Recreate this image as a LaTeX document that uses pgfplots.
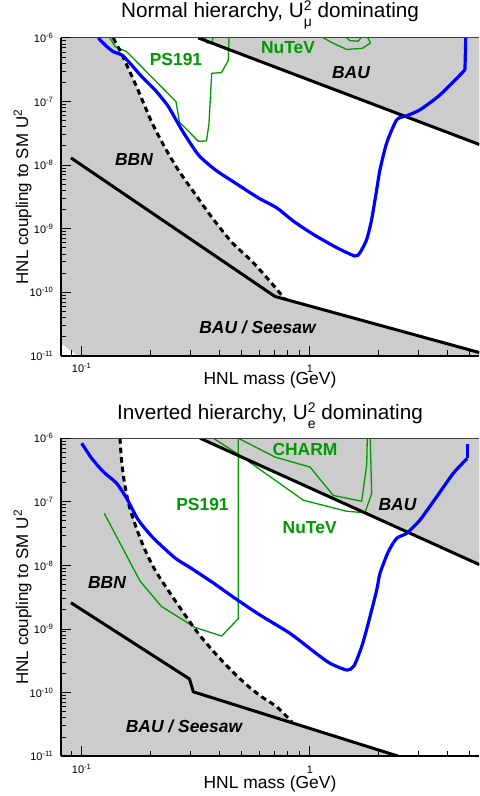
\documentclass[border=0pt]{standalone}
\usepackage{fontspec}
\setmainfont{Liberation Sans}
\usepackage{pgfplots}
\pgfplotsset{compat=1.18}

\definecolor{bgray}{RGB}{204,204,204}
\definecolor{rgreen}{RGB}{0,153,0}
\definecolor{rblue}{RGB}{0,0,255}
\newcommand{\sz}[1]{\fontsize{#1}{#1}\selectfont}

\pgfplotsset{
 every axis/.append style={
  scale only axis, width=418.6bp, height=318bp,
  xmin=0.0809, xmax=5.516, ymin=1e-11, ymax=1e-6,
  axis on top, axis lines*=left,
  xtick={0.1,1}, xticklabels={10\textsuperscript{-1},1},
  minor xtick={0.09,0.2,0.3,0.4,0.5,0.6,0.7,0.8,0.9,2,3,4,5},
  ytick={1e-11,1e-10,1e-9,1e-8,1e-7,1e-6},
  yticklabels={10\textsuperscript{-11},10\textsuperscript{-10},10\textsuperscript{-9},10\textsuperscript{-8},10\textsuperscript{-7},10\textsuperscript{-6}},
  minor ytick={2e-11,3e-11,4e-11,5e-11,6e-11,7e-11,8e-11,9e-11,
   2e-10,3e-10,4e-10,5e-10,6e-10,7e-10,8e-10,9e-10,
   2e-9,3e-9,4e-9,5e-9,6e-9,7e-9,8e-9,9e-9,
   2e-8,3e-8,4e-8,5e-8,6e-8,7e-8,8e-8,9e-8,
   2e-7,3e-7,4e-7,5e-7,6e-7,7e-7,8e-7,9e-7},
  tick align=inside,
  major tick length=10bp, minor tick length=5.5bp,
  tick style={line width=1bp, black},
  axis line style={line width=1.8bp},
  xticklabel style={font=\sz{11}, anchor=base, yshift=-17bp, inner sep=0pt},
  yticklabel style={font=\sz{11}, anchor=east, xshift=-7bp, inner sep=0pt},
  title style={font=\sz{20.8}, anchor=base},
  xlabel style={font=\sz{17.5}, anchor=base},
  ylabel style={font=\sz{17}, at={(-0.0781,0.5)}, anchor=base},
  xlabel={HNL mass (GeV)},
  ylabel={HNL coupling to SM U\textsuperscript{2}},
 },
}
\tikzset{
 blk/.style={black, line width=3bp, line join=round},
 dsh/.style={black, line width=3bp, dash pattern=on 5.5bp off 4bp},
 blu/.style={rblue, line width=3.2bp, line join=round},
 grn/.style={rgreen, line width=1.3bp, line join=round},
 topline/.style={black!75, line width=1bp},
}

\begin{document}
\begin{tikzpicture}
\useasboundingbox (0,0) rectangle (480bp,-796bp);

% ---------------- TOP PANEL ----------------
\begin{loglogaxis}[at={(60.7bp,-37.9bp)}, anchor=north west,
  title={Normal hierarchy, U\rlap{\raisebox{6.5bp}{\sz{14}2}}\raisebox{-9bp}{\sz{14}μ} dominating},
  title style={at={(0.5,1.0459)}},
  xlabel style={at={(0.5,-0.090)}}]
% gray regions
\addplot[fill=bgray, draw=none] coordinates {(0.324,1e-6) (5.516,2.11e-8) (5.516,1e-6)} -- cycle;
\addplot[fill=bgray, draw=none] coordinates {(0.08,1e-6) (0.1375,1e-6) (0.1517,5.03e-7) (0.1764,1.52e-7) (0.2032,4.64e-8) (0.2317,1.88e-8) (0.2641,8.5e-9) (0.3041,4.13e-9) (0.3722,1.50e-9) (0.4553,6.1e-10) (0.5569,3.07e-10) (0.668,1.49e-10) (0.777,7.8e-11) (5.516,1.13e-11) (5.516,1e-11) (0.0963,1e-11) (0.08,1.62e-11)} -- cycle;
% green contours
\addplot[grn] coordinates {(0.133,1e-6) (0.14,7.28e-7) (0.1574,6.08e-7) (0.2588,1e-7) (0.2682,4.72e-8) (0.3248,2.36e-8) (0.352,2.40e-8) (0.361,4.47e-8) (0.371,2.78e-7) (0.4097,2.85e-7) (0.4386,4.43e-7) (0.4417,1e-6)};
\addplot[grn] coordinates {(0.3467,1e-6) (0.3538,8.3e-7) (0.3722,8.3e-7) (0.3759,1e-6)};
\addplot[grn] coordinates {(1.144,1e-6) (1.265,8.23e-7) (1.448,6.58e-7) (1.698,6.87e-7) (1.841,8.32e-7) (1.795,1e-6)};
\addplot[grn] coordinates {(1.448,1e-6) (1.497,9.04e-7) (1.627,8.88e-7) (1.672,1e-6)};
% black lines
\addplot[blk] coordinates {(0.324,1e-6) (5.516,2.11e-8)};
\addplot[blk] coordinates {(0.0897,1.3e-8) (0.7025,8.6e-11) (5.516,1.13e-11)};
\addplot[dsh, smooth, tension=0.5] coordinates {(0.1375,1e-6) (0.1517,5.03e-7) (0.1764,1.52e-7) (0.2032,4.64e-8) (0.2317,1.88e-8) (0.2641,8.5e-9) (0.3041,4.13e-9) (0.3722,1.50e-9) (0.4553,6.1e-10) (0.5569,3.07e-10) (0.668,1.49e-10) (0.777,7.8e-11)};
% blue sensitivity curve
\addplot[blu, smooth, tension=0.4] coordinates {(0.1182,1e-6) (0.1265,7.74e-7) (0.1375,6.08e-7) (0.1497,5.40e-7) (0.1627,4.0e-7) (0.1832,2.47e-7) (0.2095,1.52e-7) (0.2395,8.36e-8) (0.2742,3.6e-8) (0.324,1.46e-8) (0.3836,8.5e-9) (0.4694,5.26e-9) (0.5935,3.06e-9) (0.7146,2.13e-9) (0.845,1.32e-9) (1.034,8.15e-10) (1.309,5.04e-10) (1.574,3.72e-10) (1.656,4.21e-10) (1.772,6.79e-10) (1.863,1.40e-9) (1.96,4.13e-9) (2.026,8.5e-9) (2.168,2.23e-8) (2.398,5.16e-8) (2.652,5.97e-8) (3.032,7.41e-8) (3.71,1.27e-7) (4.774,3.14e-7)};
\addplot[blu] coordinates {(4.774,3.14e-7) (4.81,1e-6)};
\draw[topline] (rel axis cs:0,1) -- (rel axis cs:1,1);
\end{loglogaxis}

% ---------------- BOTTOM PANEL ----------------
\begin{loglogaxis}[at={(60.7bp,-438.2bp)}, anchor=north west,
  title={Inverted hierarchy, U\rlap{\raisebox{6.5bp}{\sz{14}2}}\raisebox{-9bp}{\sz{14}e} dominating},
  title style={at={(0.5,1.0415)}},
  xlabel style={at={(0.5,-0.101)}}]
\addplot[fill=bgray, draw=none] coordinates {(0.3298,1e-6) (5.516,1.03e-8) (5.516,1e-6)} -- cycle;
\addplot[fill=bgray, draw=none] coordinates {(0.08,1e-6) (0.1472,1e-6) (0.1494,4.54e-7) (0.154,1.98e-7) (0.1611,8.91e-8) (0.1729,4.02e-8) (0.1894,1.75e-8) (0.2095,8.47e-9) (0.2388,4.10e-9) (0.2778,1.85e-9) (0.3231,8.65e-10) (0.3798,4.35e-10) (0.4508,2.26e-10) (0.5349,1.27e-10) (0.6164,8.53e-11) (0.7166,5.94e-11) (0.834,3.45e-11) (2.44,1e-11) (0.08,1e-11)} -- cycle;
% green contours: PS191, CHARM, NuTeV
\addplot[grn] coordinates {(0.1256,6.59e-8) (0.18,5.69e-9) (0.2115,2.86e-9) (0.2236,2.26e-9) (0.3134,1.06e-9) (0.4104,7.76e-10) (0.4852,1.46e-9) (0.4852,1e-6)};
\addplot[grn] coordinates {(0.4852,1e-6) (0.7025,5.06e-7) (1.0,3.52e-7) (1.265,1.26e-7) (1.684,1.02e-7) (1.772,3.79e-7) (1.782,1e-6)};
\addplot[grn] coordinates {(0.3772,1e-6) (0.4936,5.38e-7) (0.9348,1.06e-7) (1.448,7.10e-8) (1.741,6.75e-8) (1.863,1.34e-7) (1.837,1e-6)};
% black lines
\addplot[blk] coordinates {(0.3298,1e-6) (5.516,1.03e-8)};
\addplot[blk] coordinates {(0.0897,2.59e-9) (0.2966,1.64e-10) (0.3082,1.03e-10) (2.44,1e-11)};
\addplot[dsh, smooth, tension=0.5] coordinates {(0.1472,1e-6) (0.1494,4.54e-7) (0.154,1.98e-7) (0.1611,8.91e-8) (0.1729,4.02e-8) (0.1894,1.75e-8) (0.2095,8.47e-9) (0.2388,4.10e-9) (0.2778,1.85e-9) (0.3231,8.65e-10) (0.3798,4.35e-10) (0.4508,2.26e-10) (0.5349,1.27e-10) (0.6164,8.53e-11) (0.7166,5.94e-11) (0.834,3.45e-11)};
% blue
\addplot[blu, smooth, tension=0.4] coordinates {(0.1,8.31e-7) (0.1106,4.83e-7) (0.1243,2.97e-7) (0.1423,1.95e-7) (0.1579,1.11e-7) (0.177,5.18e-8) (0.2059,2.70e-8) (0.2563,1.31e-8) (0.2981,9.27e-9) (0.3722,5.48e-9) (0.4694,3.04e-9) (0.604,1.66e-9) (0.8172,8.55e-10) (1.052,4.27e-10) (1.224,2.89e-10) (1.452,2.26e-10) (1.558,2.62e-10) (1.684,5.27e-10) (1.80,1.23e-9) (1.96,4.10e-9) (2.026,7.51e-9) (2.203,1.64e-8) (2.398,2.67e-8) (2.652,3.20e-8) (3.032,5.18e-8) (3.589,1.20e-7) (4.244,2.81e-7) (4.887,4.83e-7)};
\addplot[blu] coordinates {(4.887,4.83e-7) (4.887,8.11e-7)};
\draw[topline] (rel axis cs:0,1) -- (rel axis cs:1,1);
\end{loglogaxis}

% ---------------- region labels ----------------
\begin{scope}[every node/.style={anchor=base, inner sep=0pt}]
\node[text=rgreen, font=\sz{17.5}\bfseries] at (176bp,-65bp) {PS191};
\node[text=rgreen, font=\sz{17.5}\bfseries] at (288bp,-53.3bp) {NuTeV};
\node[font=\sz{17.5}\bfseries\itshape] at (351bp,-78.3bp) {BAU};
\node[font=\sz{17.5}\bfseries\itshape] at (134bp,-165bp) {BBN};
\node[font=\sz{17.5}\bfseries\itshape] at (257.5bp,-333.3bp) {BAU / Seesaw};
\node[text=rgreen, font=\sz{17.5}\bfseries] at (305bp,-455bp) {CHARM};
\node[text=rgreen, font=\sz{17.5}\bfseries] at (202.5bp,-510bp) {PS191};
\node[text=rgreen, font=\sz{17.5}\bfseries] at (309.7bp,-533.3bp) {NuTeV};
\node[font=\sz{17.5}\bfseries\itshape] at (397.5bp,-510bp) {BAU};
\node[font=\sz{17.5}\bfseries\itshape] at (107bp,-588.3bp) {BBN};
\node[font=\sz{17.5}\bfseries\itshape] at (184bp,-732.7bp) {BAU / Seesaw};
\end{scope}
\end{tikzpicture}
\end{document}
